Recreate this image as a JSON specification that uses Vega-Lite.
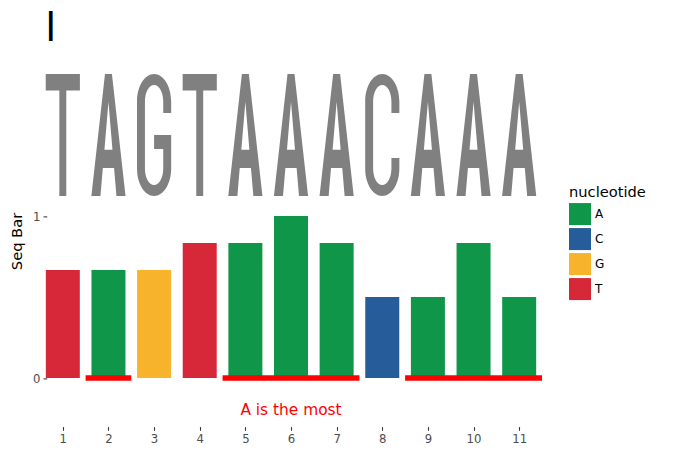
{
  "$schema": "https://vega.github.io/schema/vega-lite/v6.json",
  "width": 502,
  "height": 421.2,
  "autosize": {"type": "none"},
  "padding": {"left": 40, "top": 5.4, "right": 134, "bottom": 30.4},
  "config": {"font": "DejaVu Sans", "view": {"stroke": null}},
  "datasets": {
    "seq": [
      {"pos": 1, "nucleotide": "T", "value": 0.6667},
      {"pos": 2, "nucleotide": "A", "value": 0.6667},
      {"pos": 3, "nucleotide": "G", "value": 0.6667},
      {"pos": 4, "nucleotide": "T", "value": 0.8333},
      {"pos": 5, "nucleotide": "A", "value": 0.8333},
      {"pos": 6, "nucleotide": "A", "value": 1.0},
      {"pos": 7, "nucleotide": "A", "value": 0.8333},
      {"pos": 8, "nucleotide": "C", "value": 0.5},
      {"pos": 9, "nucleotide": "A", "value": 0.5},
      {"pos": 10, "nucleotide": "A", "value": 0.8333},
      {"pos": 11, "nucleotide": "A", "value": 0.5}
    ],
    "logo": [
      {"pos": 1, "letter": "T"},
      {"pos": 2, "letter": "A"},
      {"pos": 3, "letter": "G"},
      {"pos": 4, "letter": "T"},
      {"pos": 5, "letter": "A"},
      {"pos": 6, "letter": "A"},
      {"pos": 7, "letter": "A"},
      {"pos": 8, "letter": "C"},
      {"pos": 9, "letter": "A"},
      {"pos": 10, "letter": "A"},
      {"pos": 11, "letter": "A"}
    ],
    "segments": [
      {"start": 1.5, "end": 2.5},
      {"start": 4.5, "end": 7.5},
      {"start": 8.5, "end": 11.5}
    ],
    "notes": [
      {"label": "A is the most", "pos": 6, "y": -0.2}
    ],
    "heading": [
      {"label": "l", "pos": 0.616, "y": 2.08}
    ]
  },
  "layer": [
    {
      "data": {"name": "seq"},
      "mark": {"type": "bar", "width": 34},
      "encoding": {
        "x": {"field": "pos", "type": "quantitative", "scale": {"domain": [0.5, 11.5], "nice": false, "zero": false, "padding": 0},
          "axis": {"values": [1,2,3,4,5,6,7,8,9,10,11], "format": "d", "title": null, "domain": false, "grid": false, "ticks": true, "tickSize": 3.67, "tickColor": "#333333", "tickWidth": 1.07, "labelColor": "#4d4d4d", "labelFontSize": 11.7, "labelPadding": 3}},
        "y": {"field": "value", "type": "quantitative", "stack": null, "scale": {"domain": [-0.3, 2.3], "nice": false, "padding": 0},
          "axis": {"values": [0, 1], "format": "d", "title": "Seq Bar", "domain": false, "grid": false, "ticks": true, "tickSize": 3.67, "tickColor": "#333333", "tickWidth": 1.07, "labelColor": "#4d4d4d", "labelFontSize": 11.7, "labelPadding": 3, "offset": -6.7, "titleFontSize": 14.67, "titleColor": "#000000", "titleFontWeight": "normal", "titleX": -22.7, "titleY": 235.6, "titleAngle": 270, "titleAlign": "center", "titleBaseline": "bottom"}},
        "color": {"field": "nucleotide", "type": "nominal", "scale": {"domain": ["A", "C", "G", "T"], "range": ["#109648", "#255C99", "#F7B32B", "#D62839"]},
          "legend": {"title": "nucleotide", "orient": "none", "legendX": 529, "legendY": 180, "titleFontSize": 14.67, "titleFontWeight": "normal", "titleColor": "#000000", "titlePadding": 3, "symbolType": "square", "symbolSize": 484, "symbolStrokeWidth": 0, "symbolOpacity": 1, "labelFontSize": 12, "labelColor": "#000000", "labelOffset": 4, "rowPadding": 3, "padding": 0}}
      }
    },
    {
      "data": {"name": "logo"},
      "mark": {"type": "point", "filled": true, "size": 14884, "opacity": 1, "color": "#808080", "strokeWidth": 0},
      "encoding": {
        "x": {"field": "pos", "type": "quantitative"},
        "y": {"datum": 1.5, "type": "quantitative"},
        "shape": {"field": "letter", "type": "nominal", "legend": null,
          "scale": {"domain": ["T", "A", "G", "C"], "range": [
            "M-0.28,-1L0.28,-1L0.28,-0.73L0.057,-0.73L0.057,1L-0.057,1L-0.057,-0.73L-0.28,-0.73Z",
            "M-0.057,-1L0.057,-1L0.28,1L0.131,1L0.092,0.54L-0.092,0.54L-0.131,1L-0.28,1ZM0,-0.546L-0.066,0.24L0.066,0.24Z",
            "M0.28,-0.36L0.28,-0.55C0.28,-0.798,0.155,-1,0,-1C-0.155,-1,-0.28,-0.798,-0.28,-0.55L-0.28,0.55C-0.28,0.798,-0.155,1,0,1C0.155,1,0.28,0.798,0.28,0.55L0.28,0L0,0L0,0.23L0.15,0.23L0.15,0.55C0.15,0.699,0.083,0.82,0,0.82C-0.083,0.82,-0.15,0.699,-0.15,0.55L-0.15,-0.55C-0.15,-0.699,-0.083,-0.82,0,-0.82C0.083,-0.82,0.15,-0.699,0.15,-0.55L0.15,-0.36Z",
            "M0.28,-0.36L0.28,-0.55C0.28,-0.798,0.155,-1,0,-1C-0.155,-1,-0.28,-0.798,-0.28,-0.55L-0.28,0.55C-0.28,0.798,-0.155,1,0,1C0.155,1,0.28,0.798,0.28,0.55L0.28,0.377L0.15,0.377L0.15,0.55C0.15,0.699,0.083,0.82,0,0.82C-0.083,0.82,-0.15,0.699,-0.15,0.55L-0.15,-0.55C-0.15,-0.699,-0.083,-0.82,0,-0.82C0.083,-0.82,0.15,-0.699,0.15,-0.55L0.15,-0.36Z"
          ]}}
      }
    },
    {
      "data": {"name": "segments"},
      "mark": {"type": "rule", "color": "#FF0000", "strokeWidth": 5.3, "strokeCap": "butt"},
      "encoding": {
        "x": {"field": "start", "type": "quantitative"},
        "x2": {"field": "end"},
        "y": {"datum": 0, "type": "quantitative"}
      }
    },
    {
      "data": {"name": "notes"},
      "mark": {"type": "text", "color": "#FF0000", "fontSize": 15.4, "baseline": "middle", "align": "center"},
      "encoding": {
        "x": {"field": "pos", "type": "quantitative"},
        "y": {"field": "y", "type": "quantitative"},
        "text": {"field": "label"}
      }
    },
    {
      "data": {"name": "heading"},
      "mark": {"type": "text", "color": "#000000", "fontSize": 39.5, "baseline": "alphabetic", "align": "left"},
      "encoding": {
        "x": {"field": "pos", "type": "quantitative"},
        "y": {"field": "y", "type": "quantitative"},
        "text": {"field": "label"}
      }
    }
  ]
}
